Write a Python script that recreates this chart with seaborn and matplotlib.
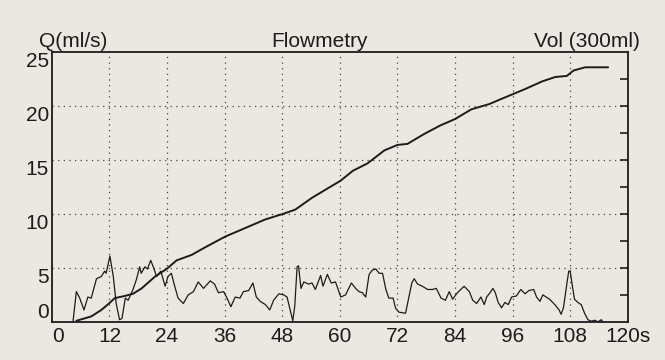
import numpy as np
import pandas as pd
import seaborn as sns
import matplotlib.pyplot as plt

# flow trace Q (ml/s)
flow_t = [4.4, 5.1, 5.8, 6.7, 7.5, 8.2, 9.3, 10.3, 11.0, 11.3, 12.1, 12.8, 13.4, 14.1, 14.6,
          15.3, 15.9, 16.9, 17.6, 18.3, 18.6, 19.4, 19.9, 20.6, 21.3, 21.8, 22.7, 23.6, 24.2,
          24.9, 25.6, 26.3, 27.4, 28.4, 29.5, 30.5, 31.6, 33.0, 33.9, 34.7, 35.8, 36.5, 37.3,
          38.2, 39.2, 39.9, 41.0, 41.9, 42.6, 43.4, 44.5, 45.4, 46.2, 47.3, 48.3, 49.0, 49.7,
          50.2, 50.6, 51.1, 51.4, 51.9, 52.5, 53.5, 54.2, 54.9, 56.0, 56.5, 57.4, 58.2, 59.1,
          60.2, 61.2, 62.4, 63.3, 64.0, 64.7, 65.4, 66.1, 66.8, 67.5, 68.2, 68.9, 69.6, 70.2,
          71.1, 71.6, 72.3, 73.7, 74.4, 75.0, 75.5, 76.2, 77.2, 78.3, 79.3, 80.1, 81.1, 82.0,
          82.8, 83.5, 84.5, 85.2, 85.9, 87.0, 87.7, 88.5, 89.4, 90.1, 90.6, 91.3, 91.9, 92.4,
          93.0, 93.7, 94.4, 95.1, 95.8, 96.8, 97.7, 98.6, 99.4, 100.4, 101.0, 101.7, 102.3,
          103.0, 103.7, 104.8, 105.7, 106.1, 106.6, 107.2, 107.7, 108.0, 108.4, 108.9, 109.6,
          110.3, 111.0, 111.7, 112.4, 113.1, 113.8, 114.5, 114.8]
flow_q = [0.0, 2.8, 2.2, 1.1, 2.3, 2.2, 4.0, 4.2, 4.7, 4.5, 6.1, 4.2, 1.7, 0.2, 0.3,
          2.2, 2.0, 3.0, 3.9, 5.1, 4.5, 5.1, 4.9, 5.7, 4.9, 4.2, 4.7, 3.3, 4.2,
          4.5, 3.3, 2.2, 1.7, 2.5, 2.8, 3.7, 3.1, 3.8, 3.5, 2.7, 2.8, 2.2, 1.4,
          2.3, 2.2, 2.8, 2.9, 3.6, 2.3, 1.9, 1.6, 1.1, 2.0, 2.6, 2.5, 2.3, 1.0,
          0.1, 1.4, 5.1, 5.2, 3.1, 3.7, 3.5, 3.6, 3.0, 4.3, 3.3, 4.4, 3.6, 3.7,
          2.3, 2.5, 3.6, 3.1, 2.8, 2.7, 2.3, 4.4, 4.8, 4.9, 4.5, 4.5, 3.0, 2.2,
          2.2, 1.3, 0.9, 0.8, 2.3, 3.6, 4.0, 3.5, 3.3, 3.0, 3.0, 3.1, 2.2, 2.0,
          2.8, 2.1, 2.7, 3.0, 3.3, 2.8, 2.0, 1.7, 2.3, 1.6, 2.3, 2.7, 3.1, 2.7,
          1.8, 1.3, 1.8, 1.6, 2.3, 2.4, 3.0, 2.6, 2.9, 3.0, 2.3, 1.9, 2.5,
          2.3, 2.1, 1.6, 1.1, 0.7, 1.3, 3.2, 4.7, 4.7, 3.5, 2.1, 1.8,
          1.6, 0.8, 0.2, 0.06, 0.15, 0.0, 0.2, 0.0]

# voided volume trace, plotted on the same 0-25 scale
vol_t = [5.1, 8.2, 10.3, 11.9, 13.1, 15.2, 16.9, 18.7, 21.5, 23.9, 26.0, 29.1, 31.9, 36.1,
         40.3, 44.5, 48.1, 50.7, 54.2, 60.2, 62.7, 65.8, 69.3, 72.0, 74.1, 77.5, 80.9, 84.0,
         87.4, 91.2, 93.3, 96.0, 98.7, 102.2, 104.9, 107.3, 108.7, 111.1, 115.9]
vol_v = [0.1, 0.5, 1.1, 1.7, 2.2, 2.4, 2.6, 3.1, 4.2, 4.9, 5.7, 6.2, 6.9, 7.9,
         8.7, 9.5, 10.0, 10.4, 11.5, 13.1, 14.0, 14.7, 15.9, 16.4, 16.5, 17.4, 18.2, 18.8,
         19.7, 20.2, 20.6, 21.1, 21.6, 22.3, 22.7, 22.8, 23.3, 23.6, 23.6]

x_ticks = [0, 12, 24, 36, 48, 60, 72, 84, 96, 108, 120]
x_labels = ["0", "12", "24", "36", "48", "60", "72", "84", "96", "108", "120s"]
y_ticks = [0, 5, 10, 15, 20, 25]

paper = "#ebe8e1"
ink = "#1c1c1c"

sns.set_theme(style="ticks")
plt.rcParams["font.family"] = ["Liberation Sans", "DejaVu Sans"]

flow_df = pd.DataFrame({"t": flow_t, "q": flow_q})
vol_df = pd.DataFrame({"t": vol_t, "v": vol_v})

fig = plt.figure(figsize=(6.65, 3.6), dpi=100, facecolor=paper)
ax = fig.add_axes([0.078, 0.106, 0.866, 0.749], facecolor=paper)

sns.lineplot(data=flow_df, x="t", y="q", ax=ax, color=ink, lw=0.9, sort=False)
sns.lineplot(data=vol_df, x="t", y="v", ax=ax, color=ink, lw=1.4, sort=False)

ax.set_xlim(0, 120)
ax.set_ylim(0, 25)
ax.set_xlabel("")
ax.set_ylabel("")

# dotted grid
for gx in x_ticks[1:-1]:
    ax.axvline(gx, color="#444444", lw=0.9, ls=(0, (1, 3.5)), zorder=0)
for gy in y_ticks[1:-1]:
    ax.axhline(gy, color="#444444", lw=0.9, ls=(0, (1, 3.5)), zorder=0)

ax.set_xticks(x_ticks)
ax.set_xticklabels(x_labels, fontsize=15, color=ink)
ax.set_yticks(y_ticks)
ax.set_yticklabels([str(v) for v in y_ticks], fontsize=15, color=ink)
ax.tick_params(axis="both", length=0, pad=2)
ax.tick_params(axis="x", pad=4)
for lbl in ax.get_yticklabels():
    lbl.set_va("bottom" if lbl.get_text() == "0" else "top")
xl = ax.get_xticklabels()
xl[0].set_ha("left")

for side in ["left", "right", "top", "bottom"]:
    ax.spines[side].set_visible(True)
    ax.spines[side].set_color(ink)
    ax.spines[side].set_linewidth(1.3)

# small inward ticks on the right edge (volume scale)
ax2 = ax.twinx()
ax2.set_ylim(0, 25)
ax2.set_yticks(np.arange(2.5, 25, 2.5))
ax2.tick_params(axis="y", direction="in", length=6, width=1.2, color=ink, labelright=False)
ax2.grid(False)
for side in ax2.spines:
    ax2.spines[side].set_visible(False)

fig.text(0.058, 0.886, "Q(ml/s)", fontsize=15, color=ink, ha="left", va="center")
fig.text(0.480, 0.886, "Flowmetry", fontsize=15, color=ink, ha="center", va="center")
fig.text(0.962, 0.886, "Vol (300ml)", fontsize=15, color=ink, ha="right", va="center")

fig.savefig("out.png", dpi=100, facecolor=paper)
